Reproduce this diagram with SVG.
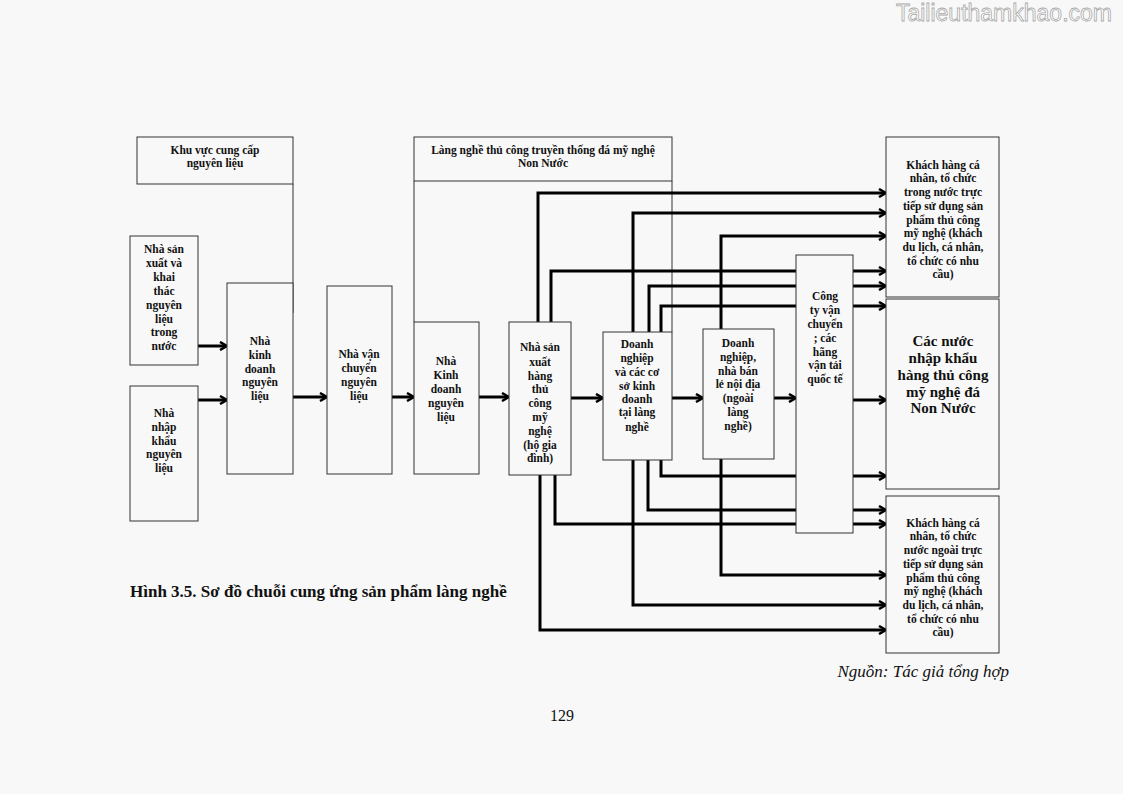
<svg xmlns="http://www.w3.org/2000/svg" width="1123" height="794" viewBox="0 0 1123 794">
<style>
.bx{fill:#f8f8f8;stroke:#333;stroke-width:1}
.t{font-family:"Liberation Serif",serif;font-weight:bold;font-size:11.5px;text-anchor:middle;fill:#111}
.big{font-size:15px}
.c{fill:none;stroke:#000;stroke-width:3;marker-end:url(#ah)}
.ln{fill:none;stroke:#333;stroke-width:1}
</style>
<defs>
<marker id="ah" markerWidth="10" markerHeight="10" refX="7" refY="5" orient="auto" markerUnits="userSpaceOnUse">
<path d="M1,1 L8,5 L1,9" fill="none" stroke="#000" stroke-width="2.5"/>
</marker>
</defs>
<rect width="1123" height="794" fill="#f8f8f8"/>
<text x="1112" y="21" font-family="Liberation Sans,sans-serif" font-size="23" text-anchor="end" fill="#fff" stroke="#aaa" stroke-width="0.8">Tailieuthamkhao.com</text>

<g id="connectors">
<path class="ln" d="M293,184 V313"/>
<path class="ln" d="M414,181 V322"/>
<path class="ln" d="M672,181 V332"/>
<path class="c" d="M198,346 H226"/>
<path class="c" d="M198,400 H226"/>
<path class="c" d="M293,397 H326"/>
<path class="c" d="M392,397 H413"/>
<path class="c" d="M479,397 H508"/>
<path class="c" d="M571,398 H602"/>
<path class="c" d="M672,398 H702"/>
<path class="c" d="M774,398 H795"/>
<path class="c" d="M853,400 H885"/>
<path class="c" d="M538,322 V193 H885"/>
<path class="c" d="M633,332 V213 H885"/>
<path class="c" d="M721,329 V236 H885"/>
<path class="c" d="M551,322 V271 H885"/>
<path class="c" d="M649,332 V286 H885"/>
<path class="c" d="M661,332 V306 H885"/>
<path class="c" d="M661,460 V476 H885"/>
<path class="c" d="M648,460 V510 H885"/>
<path class="c" d="M555,475 V524 H885"/>
<path class="c" d="M721,459 V575 H885"/>
<path class="c" d="M633,460 V605 H885"/>
<path class="c" d="M540,475 V630 H885"/>
</g>

<g id="khuvuc"><rect class="bx" x="137" y="137" width="156" height="47"/>
<text class="t"><tspan x="215" y="154">Khu vực cung cấp</tspan><tspan x="215" y="167">nguyên liệu</tspan></text></g>
<g id="langnghe"><rect class="bx" x="414" y="137" width="258" height="44"/>
<text class="t"><tspan x="543" y="154">Làng nghề thủ công truyền thống đá mỹ nghệ</tspan><tspan x="543" y="167">Non Nước</tspan></text></g>

<g id="nsx"><rect class="bx" x="130" y="236" width="68" height="129"/>
<text class="t"><tspan x="164" y="253">Nhà sản</tspan><tspan x="164" y="267">xuất và</tspan><tspan x="164" y="281">khai</tspan><tspan x="164" y="295">thác</tspan><tspan x="164" y="309">nguyên</tspan><tspan x="164" y="323">liệu</tspan><tspan x="164" y="336">trong</tspan><tspan x="164" y="350">nước</tspan></text></g>
<g id="nk"><rect class="bx" x="130" y="386" width="68" height="135"/>
<text class="t"><tspan x="164" y="417">Nhà</tspan><tspan x="164" y="431">nhập</tspan><tspan x="164" y="445">khẩu</tspan><tspan x="164" y="458">nguyên</tspan><tspan x="164" y="472">liệu</tspan></text></g>
<g id="kd1"><rect class="bx" x="227" y="283" width="66" height="191"/>
<text class="t"><tspan x="260" y="345">Nhà</tspan><tspan x="260" y="359">kinh</tspan><tspan x="260" y="373">doanh</tspan><tspan x="260" y="386">nguyên</tspan><tspan x="260" y="400">liệu</tspan></text></g>
<g id="vc"><rect class="bx" x="327" y="286" width="65" height="188"/>
<text class="t"><tspan x="359" y="358">Nhà vận</tspan><tspan x="359" y="372">chuyển</tspan><tspan x="359" y="386">nguyên</tspan><tspan x="359" y="400">liệu</tspan></text></g>
<g id="kd2"><rect class="bx" x="414" y="322" width="65" height="152"/>
<text class="t"><tspan x="446" y="365">Nhà</tspan><tspan x="446" y="379">Kinh</tspan><tspan x="446" y="393">doanh</tspan><tspan x="446" y="407">nguyên</tspan><tspan x="446" y="421">liệu</tspan></text></g>
<g id="sx"><rect class="bx" x="509" y="322" width="62" height="153"/>
<text class="t"><tspan x="540" y="351">Nhà sản</tspan><tspan x="540" y="366">xuất</tspan><tspan x="540" y="380">hàng</tspan><tspan x="540" y="393">thủ</tspan><tspan x="540" y="407">công</tspan><tspan x="540" y="421">mỹ</tspan><tspan x="540" y="435">nghệ</tspan><tspan x="540" y="449">(hộ gia</tspan><tspan x="540" y="462">đình)</tspan></text></g>
<g id="dn"><rect class="bx" x="603" y="332" width="69" height="128"/>
<text class="t"><tspan x="637" y="348">Doanh</tspan><tspan x="637" y="362">nghiệp</tspan><tspan x="637" y="376">và các cơ</tspan><tspan x="637" y="390">sở kinh</tspan><tspan x="637" y="403">doanh</tspan><tspan x="637" y="416">tại làng</tspan><tspan x="637" y="431">nghề</tspan></text></g>
<g id="bl"><rect class="bx" x="703" y="329" width="71" height="130"/>
<text class="t"><tspan x="738" y="347">Doanh</tspan><tspan x="738" y="361">nghiệp,</tspan><tspan x="738" y="375">nhà bán</tspan><tspan x="738" y="388">lẻ nội địa</tspan><tspan x="738" y="402">(ngoài</tspan><tspan x="738" y="416">làng</tspan><tspan x="738" y="430">nghề)</tspan></text></g>
<g id="ct"><rect class="bx" x="796" y="255" width="57" height="278"/>
<text class="t"><tspan x="825" y="300">Công</tspan><tspan x="825" y="314">ty vận</tspan><tspan x="825" y="328">chuyển</tspan><tspan x="825" y="342">; các</tspan><tspan x="825" y="356">hãng</tspan><tspan x="825" y="369">vận tải</tspan><tspan x="825" y="383">quốc tế</tspan></text></g>

<g id="kh1"><rect class="bx" x="886" y="137" width="113" height="160"/>
<text class="t"><tspan x="943" y="169">Khách hàng cá</tspan><tspan x="943" y="182">nhân, tổ chức</tspan><tspan x="943" y="196">trong nước trực</tspan><tspan x="943" y="210">tiếp sử dụng sản</tspan><tspan x="943" y="224">phẩm thủ công</tspan><tspan x="943" y="237">mỹ nghệ (khách</tspan><tspan x="943" y="251">du lịch, cá nhân,</tspan><tspan x="943" y="265">tổ chức có nhu</tspan><tspan x="943" y="278">cầu)</tspan></text></g>
<g id="nn"><rect class="bx" x="886" y="299" width="113" height="190"/>
<text class="t big"><tspan x="943" y="346">Các nước</tspan><tspan x="943" y="363">nhập khẩu</tspan><tspan x="943" y="380">hàng thủ công</tspan><tspan x="943" y="397">mỹ nghệ đá</tspan><tspan x="943" y="413">Non Nước</tspan></text></g>
<g id="kh2"><rect class="bx" x="886" y="496" width="113" height="157"/>
<text class="t"><tspan x="943" y="527">Khách hàng cá</tspan><tspan x="943" y="540">nhân, tổ chức</tspan><tspan x="943" y="554">nước ngoài trực</tspan><tspan x="943" y="568">tiếp sử dụng sản</tspan><tspan x="943" y="582">phẩm thủ công</tspan><tspan x="943" y="595">mỹ nghệ (khách</tspan><tspan x="943" y="609">du lịch, cá nhân,</tspan><tspan x="943" y="623">tổ chức có nhu</tspan><tspan x="943" y="636">cầu)</tspan></text></g>

<text x="130" y="597" font-family="Liberation Serif,serif" font-weight="bold" font-size="17" fill="#111">Hình 3.5. Sơ đồ chuỗi cung ứng sản phẩm làng nghề</text>
<text x="1009" y="677" font-family="Liberation Serif,serif" font-style="italic" font-size="17" text-anchor="end" fill="#111">Nguồn: Tác giả tổng hợp</text>
<text x="562" y="721" font-family="Liberation Serif,serif" font-size="16" text-anchor="middle" fill="#111">129</text>
</svg>
